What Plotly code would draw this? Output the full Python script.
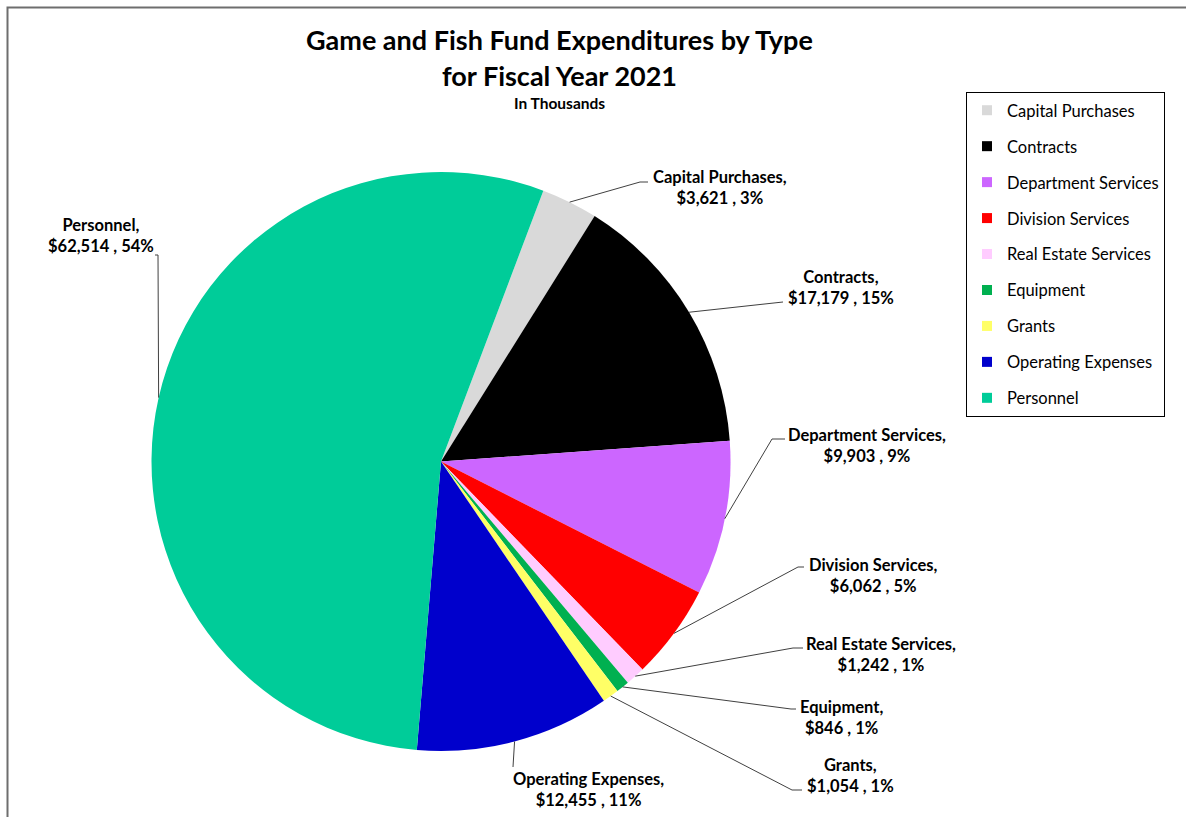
import math
import plotly.graph_objects as go

# ---------------- data ----------------
categories = ["Capital Purchases", "Contracts", "Department Services", "Division Services",
              "Real Estate Services", "Equipment", "Grants", "Operating Expenses", "Personnel"]
values = [3621, 17179, 9903, 6062, 1242, 846, 1054, 12455, 62514]
colors = ["#D9D9D9", "#000000", "#CC66FF", "#FF0000", "#FFCCFF", "#00B050", "#FFFF66", "#0000CC", "#00CC99"]

# ---------------- layout (pixels) ----------------
W, H = 1186, 817
FONT = "Lato"
CX, CY, R = 441.0, 461.5, 289.5   # pie centre / radius in px
ROTATION = 20.7

# label block centres, leader elbow points and end points (px)
label_pos = [(720, 188), (841, 287), (867, 445), (873, 575), (881, 654),
             (841, 717), (850, 775), (588, 789), (101, 236)]
elbow_pos = [(640, 182), (783, 302), (772, 439), (798, 567), (793, 648),
             (791, 709), (792, 790), (513, 767), (158, 255)]
end_pos = [(648, 182), (783, 302), (785, 439), (804, 567), (803, 648),
           (796, 709), (802, 790), (513, 767), (155, 255)]


def px(x):
    return x / W


def py(y):
    return 1 - y / H


fig = go.Figure()

fig.add_trace(go.Pie(
    labels=categories, values=values, sort=False, direction="clockwise",
    rotation=ROTATION, textinfo="none", showlegend=False,
    marker=dict(colors=colors, line=dict(width=0)),
    domain=dict(x=[px(CX - R), px(CX + R)], y=[py(CY + R), py(CY - R)]),
))

# legend entries
for name, col in zip(categories, colors):
    fig.add_trace(go.Scatter(
        x=[None], y=[None], mode="markers", name=name, legendgroup=name,
        marker=dict(symbol="square", size=10, color=col),
    ))

# data labels + leader lines
total = sum(values)
cum = 0.0
annotations = []
shapes = []
for i, (name, v) in enumerate(zip(categories, values)):
    mid = (cum + v / 2) / total * 360 + ROTATION
    cum += v
    sx = CX + R * math.sin(math.radians(mid))
    sy = CY - R * math.cos(math.radians(mid))
    ex, ey = elbow_pos[i]
    tx, ty = end_pos[i]
    path = f"M {px(sx)},{py(sy)} L {px(ex)},{py(ey)} L {px(tx)},{py(ty)}"
    shapes.append(dict(type="path", xref="paper", yref="paper", path=path,
                       line=dict(color="#404040", width=1)))
    pct = round(v / total * 100)
    lx, ly = label_pos[i]
    annotations.append(dict(
        x=px(lx), y=py(ly), xref="paper", yref="paper", showarrow=False,
        xanchor="center", yanchor="middle", align="center",
        text=f"<b>{name},<br>${v:,} , {pct}%</b>",
        font=dict(family=FONT, size=16.5, color="#000000"),
    ))

# titles
annotations.append(dict(x=px(559), y=py(39), xref="paper", yref="paper", showarrow=False,
                        xanchor="center", yanchor="middle",
                        text="<b>Game and Fish Fund Expenditures by Type</b>",
                        font=dict(family=FONT, size=27, color="#000000")))
annotations.append(dict(x=px(559), y=py(75), xref="paper", yref="paper", showarrow=False,
                        xanchor="center", yanchor="middle",
                        text="<b>for Fiscal Year 2021</b>",
                        font=dict(family=FONT, size=27, color="#000000")))
annotations.append(dict(x=px(559), y=py(103), xref="paper", yref="paper", showarrow=False,
                        xanchor="center", yanchor="middle",
                        text="<b>In Thousands</b>",
                        font=dict(family=FONT, size=15.5, color="#000000")))

# chart border (partly outside the visible window)
shapes.append(dict(type="rect", xref="paper", yref="paper",
                   x0=px(7.5), y0=-0.05, x1=1.05, y1=py(7.5),
                   line=dict(color="#6E6E6E", width=2), fillcolor="rgba(0,0,0,0)"))

fig.update_layout(
    width=W, height=H, margin=dict(l=0, r=0, t=0, b=0),
    paper_bgcolor="white", plot_bgcolor="white",
    xaxis=dict(visible=False), yaxis=dict(visible=False),
    annotations=annotations, shapes=shapes,
    legend=dict(x=1165 / W, y=py(92), xanchor="right", yanchor="top",
                bordercolor="#000000", borderwidth=1, bgcolor="white",
                font=dict(family=FONT, size=16.5, color="#000000"),
                traceorder="grouped", tracegroupgap=11.5),
    font=dict(family=FONT),
)

fig.write_html("out.html", config={"displayModeBar": False},
               post_script="document.body.style.margin='0';")
